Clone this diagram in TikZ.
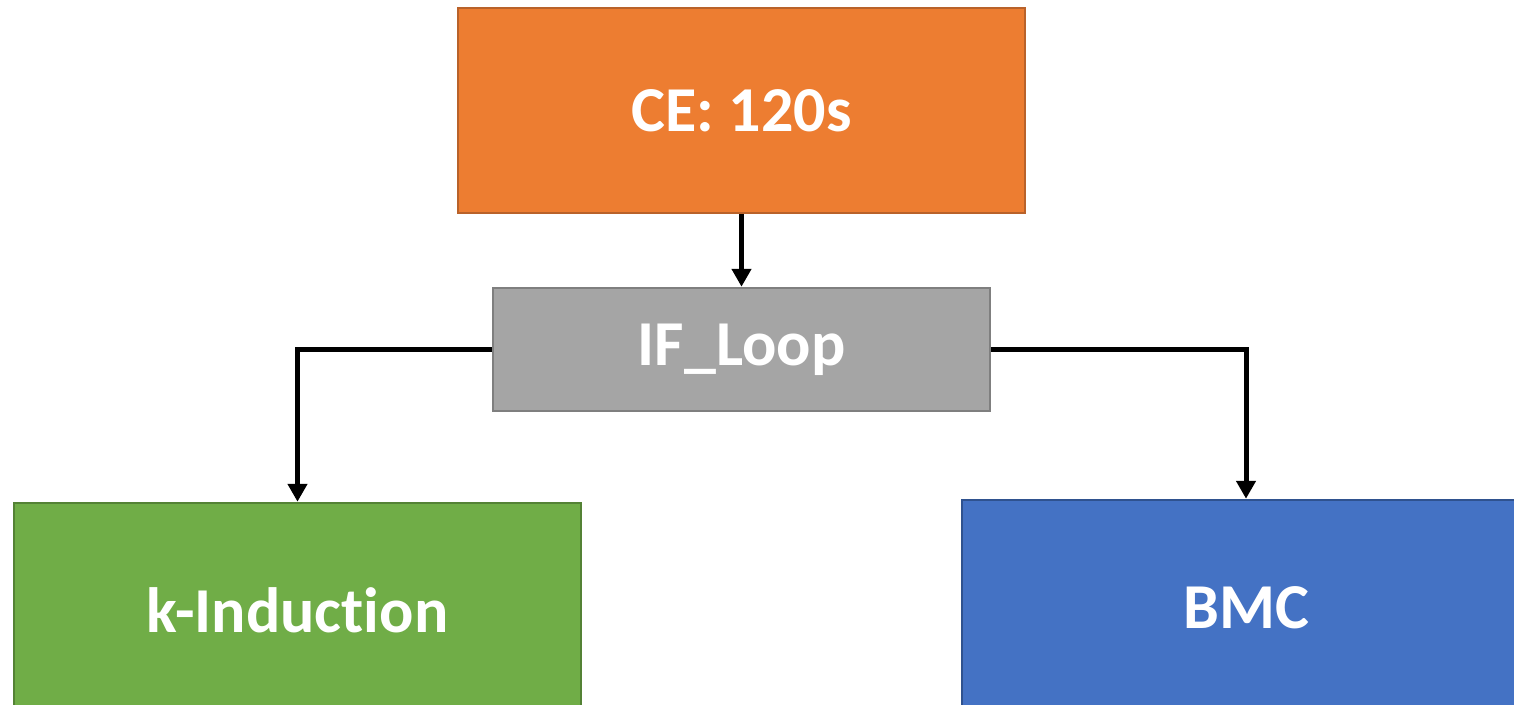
\documentclass[tikz,border=0pt]{standalone}
\usepackage{fontspec}
\setmainfont{Carlito}[Ligatures={NoCommon}]
\usetikzlibrary{arrows.meta}
\definecolor{ceorange}{HTML}{ED7D31}
\definecolor{ceborder}{HTML}{B9622A}
\definecolor{ifgray}{HTML}{A5A5A5}
\definecolor{ifborder}{HTML}{7F7F7F}
\definecolor{kgreen}{HTML}{70AD47}
\definecolor{kborder}{HTML}{548235}
\definecolor{bblue}{HTML}{4472C4}
\definecolor{bborder}{HTML}{2F528F}
\tikzset{
  box/.style={rectangle, line width=2.5pt, text=white, font=\fontsize{64}{70}\selectfont\bfseries, inner sep=0pt},
  conn/.style={line width=5pt, -{Triangle[width=19pt,length=18pt]}},
}
\begin{document}
\begin{tikzpicture}[x=1pt,y=-1pt]
\useasboundingbox (0,0) rectangle (1514,704);
\clip (0,0) rectangle (1514,704);
\node[box, fill=ceorange, draw=ceborder, minimum width=567pt, minimum height=205pt] (ce) at (741.5,110.5) {CE: 120s};
\node[box, fill=ifgray, draw=ifborder, minimum width=497pt, minimum height=123pt] (if) at (741.5,349.5) {IF\_Loop};
\node[box, fill=kgreen, draw=kborder, minimum width=567pt, minimum height=214pt] (kind) at (297.5,610) {k-Induction};
\node[box, fill=bblue, draw=bborder, minimum width=568pt, minimum height=216pt] (bmc) at (1246,608) {BMC};
\draw[conn] (ce.south) -- (if.north);
\draw[conn] (if.west) -| (kind.north);
\draw[conn] (if.east) -| (bmc.north);
\end{tikzpicture}
\end{document}
